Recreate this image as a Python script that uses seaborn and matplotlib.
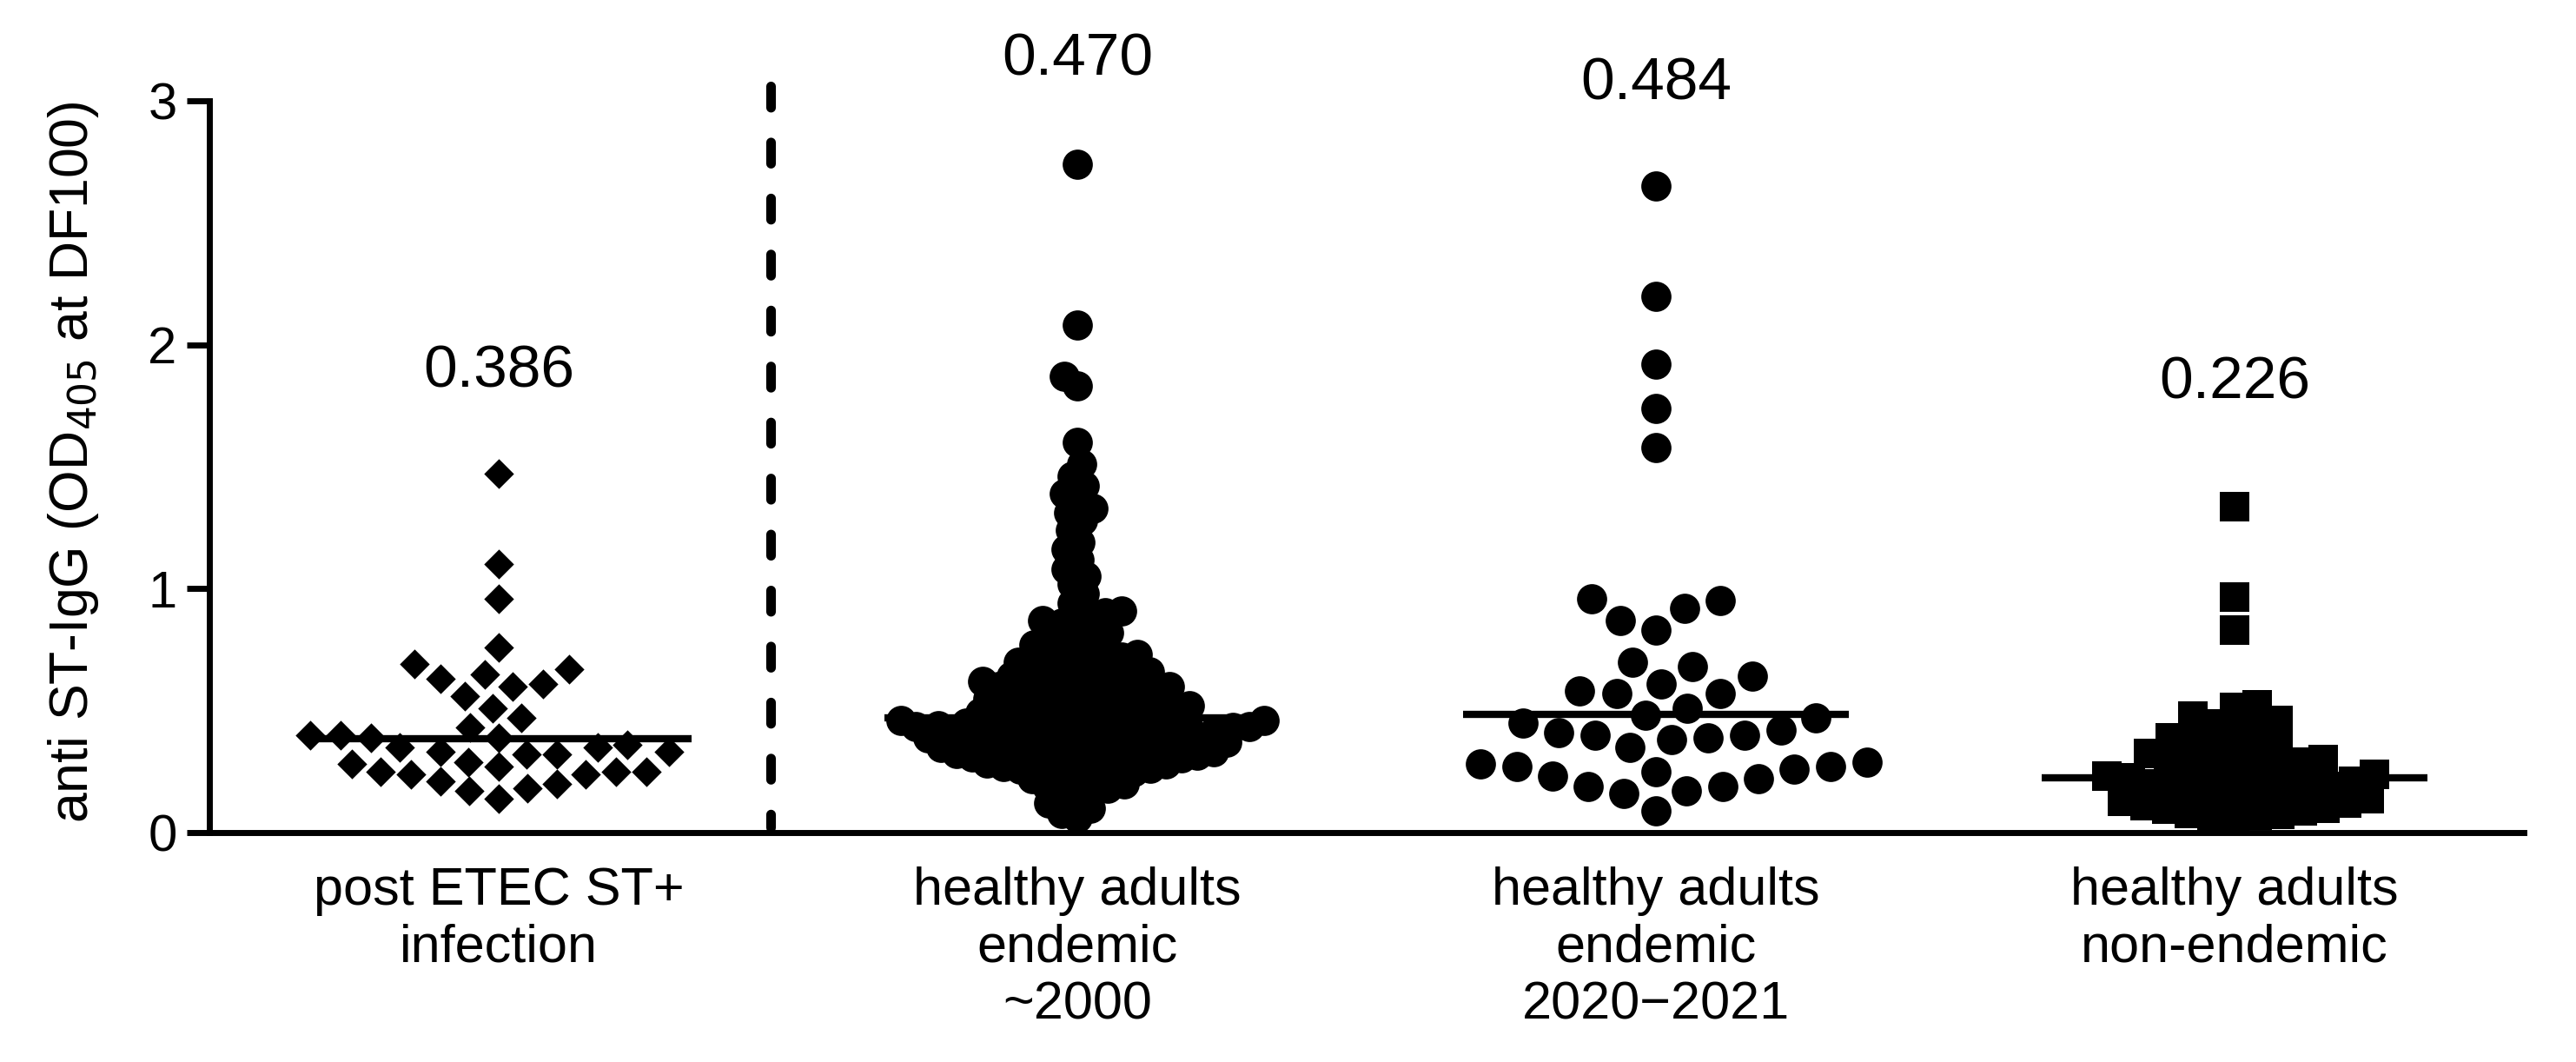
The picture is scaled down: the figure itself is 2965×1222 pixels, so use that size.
import warnings
import pandas as pd
import matplotlib.pyplot as plt
import seaborn as sns

warnings.filterwarnings("ignore")

# categories (x axis)
categories = [
    "post ETEC ST+\ninfection",
    "healthy adults\nendemic\n~2000",
    "healthy adults\nendemic\n2020\u22122021",
    "healthy adults\nnon-endemic",
]

# values (OD405 at DF100)
post_etec = [1.47, 1.10, 0.96, 0.76, 0.69, 0.67, 0.65, 0.63, 0.61, 0.60, 0.56, 0.51,
             0.47, 0.43, 0.40, 0.40, 0.39, 0.39, 0.36, 0.35, 0.35, 0.33, 0.33, 0.32,
             0.32, 0.29, 0.28, 0.27, 0.25, 0.25, 0.25, 0.24, 0.24, 0.21, 0.20, 0.18,
             0.17, 0.14]

endemic_2000 = [2.74, 2.08, 1.87, 1.83, 1.60, 1.51, 1.46,
                1.42, 1.39, 1.36, 1.33, 1.31,
                1.28, 1.24, 1.19, 1.16, 1.12, 1.08, 1.05, 1.02,
                0.98, 0.94, 0.91,
                0.90, 0.89, 0.87, 0.86, 0.85, 0.83, 0.82, 0.81, 0.79, 0.78, 0.77, 0.76,
                0.745, 0.74, 0.73, 0.72, 0.715, 0.71, 0.70, 0.69, 0.685, 0.68, 0.67,
                0.66, 0.655,
                0.645, 0.64, 0.635, 0.63, 0.625, 0.62, 0.615, 0.61, 0.60, 0.60, 0.595,
                0.59, 0.58, 0.575, 0.57, 0.565, 0.56, 0.555, 0.55,
                0.545, 0.54, 0.535, 0.53, 0.52, 0.52, 0.515, 0.51, 0.50, 0.50,
                0.495, 0.49, 0.485, 0.48, 0.475, 0.47,
                0.465, 0.46, 0.46, 0.458, 0.455, 0.45, 0.45, 0.447, 0.444, 0.44,
                0.44, 0.436, 0.433, 0.43, 0.428, 0.425, 0.422, 0.42, 0.415, 0.412,
                0.41, 0.41, 0.405, 0.40, 0.40, 0.395, 0.39, 0.39, 0.385, 0.38,
                0.378, 0.375, 0.37, 0.37, 0.365, 0.36, 0.358, 0.355, 0.35, 0.35,
                0.345, 0.34, 0.338, 0.335, 0.33, 0.33, 0.325, 0.32, 0.318, 0.315,
                0.31, 0.305, 0.30, 0.30, 0.295, 0.29, 0.285, 0.28, 0.275, 0.27,
                0.265, 0.26, 0.255, 0.25, 0.245, 0.24, 0.23, 0.22,
                0.21, 0.20, 0.19, 0.18, 0.17, 0.16,
                0.14, 0.12, 0.10, 0.08, 0.06]

endemic_2020 = [2.65, 2.20, 1.92, 1.74, 1.58, 0.96, 0.95, 0.92, 0.87, 0.83,
                0.70, 0.68, 0.64, 0.61, 0.58, 0.57, 0.57, 0.51, 0.48, 0.47,
                0.45, 0.42, 0.41, 0.40, 0.40, 0.39, 0.38, 0.35, 0.29, 0.28,
                0.27, 0.27, 0.26, 0.25, 0.23, 0.22, 0.19, 0.19, 0.17, 0.16, 0.09]

non_endemic = [1.335, 0.966, 0.829, 0.524, 0.512, 0.477, 0.459, 0.447, 0.435, 0.406,
               0.388, 0.378, 0.36, 0.345, 0.334, 0.323, 0.31, 0.30, 0.29, 0.28,
               0.27, 0.26, 0.25, 0.24, 0.235, 0.23, 0.226, 0.22, 0.21, 0.20,
               0.19, 0.185, 0.18, 0.17, 0.165, 0.16, 0.15, 0.14, 0.135, 0.13,
               0.12, 0.11, 0.10, 0.095, 0.09, 0.08, 0.075, 0.07, 0.06, 0.05]

medians = [0.386, 0.470, 0.484, 0.226]
median_labels = ["0.386", "0.470", "0.484", "0.226"]
label_y = [1.89, 3.17, 3.07, 1.845]

groups = [post_etec, endemic_2000, endemic_2020, non_endemic]
df = pd.concat([pd.DataFrame({"group": cat, "od": vals})
                for cat, vals in zip(categories, groups)], ignore_index=True)

sns.set_theme(style="ticks")
plt.rcParams["font.family"] = ["Liberation Sans", "DejaVu Sans"]

fig, ax = plt.subplots(figsize=(29.65, 12.22), dpi=100)
fig.subplots_adjust(left=241 / 2965, right=2905 / 2965, bottom=1 - 958 / 1222, top=1 - 88 / 1222)

# marker per group; swarm layout size vs drawn size (Prism lets dots overlap)
markers = ["D", "o", "o", "s"]
layout_sizes = [24, 13, 29, 18]
draw_sizes = [17.5, 25, 25, 25]

swarms = []
for cat, m, s in zip(categories, markers, layout_sizes):
    n0 = len(ax.collections)
    sns.swarmplot(data=df[df["group"] == cat], x="group", y="od", order=categories,
                  marker=m, color="black", size=s, linewidth=0,
                  warn_thresh=1, ax=ax)
    swarms.append(ax.collections[n0:])

ax.set_xlim(-0.5, 3.5)
ax.set_ylim(0, 3.1)

# lay out the swarms once, then freeze them and enlarge the markers
fig.canvas.draw()
for colls, s in zip(swarms, draw_sizes):
    for c in colls:
        c.__dict__.pop("draw", None)
        c.set_sizes([s ** 2])

# median lines and labels
for i, (med, lab, ly) in enumerate(zip(medians, median_labels, label_y)):
    ax.hlines(med, i - 0.333, i + 0.333, color="black", linewidth=6, zorder=4)
    ax.text(i, ly, lab, ha="center", va="center", fontsize=50, color="black", clip_on=False)

# dashed separator
ax.plot([0.47, 0.47], [3.06, 0.02], color="black", linewidth=8,
        linestyle=(0, (2.2, 3.6)), dash_capstyle="round", clip_on=False)

sns.despine(ax=ax)
ax.spines["left"].set_bounds(0, 3)
for sp in ["left", "bottom"]:
    ax.spines[sp].set_linewidth(5)
    ax.spines[sp].set_color("black")

ax.set_yticks([0, 1, 2, 3])
ax.set_yticklabels(["0", "1", "2", "3"])
ax.tick_params(axis="y", length=19, width=5, pad=8, labelsize=43, colors="black")
ax.tick_params(axis="x", length=0, pad=28, labelsize=44, colors="black")
ax.set_xlabel("")
ax.set_ylabel("anti ST-IgG (OD$_{405}$ at DF100)", fontsize=45, color="black")
ax.yaxis.set_label_coords(-0.047, 0.49)

plt.savefig("out.png", dpi=100)
plt.close()
